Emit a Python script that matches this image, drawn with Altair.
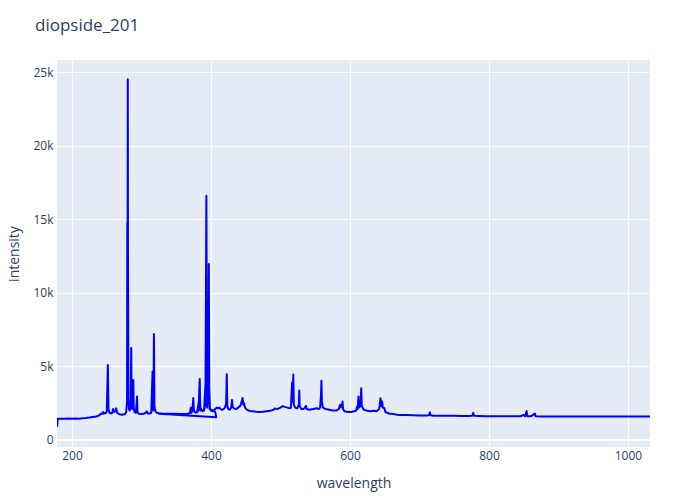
import altair as alt
import pandas as pd

# Segment A (first detector range)
seg_a_x = [178.6, 179.5, 185, 190, 195, 200, 205, 210, 215, 220, 225, 230, 235, 238, 240, 242, 244, 245, 246, 248,
           250, 251.6, 252.5, 254, 256, 258, 259, 260, 262, 263.5, 265, 268, 272, 276, 278, 279.2, 279.55, 279.9,
           280.27, 280.6, 281.2, 282, 283, 284.5, 285.2, 285.8, 287, 288.2, 288.8, 290, 292, 293.6, 294.2, 296,
           300, 303, 306, 307.5, 309, 312, 314, 315.9, 316.6, 317.2, 317.9, 318.6, 320, 322, 325, 330, 335, 340,
           345, 350, 355, 360, 365, 368, 370, 371, 372, 373.5, 374.5, 375.3, 376, 378, 380, 382, 383.8, 384.5,
           386, 388, 390, 392, 393.37, 394, 395, 396.2, 396.85, 397.5, 398.5, 400, 402, 404, 406, 407, 407.5]
seg_a_y = [900, 1440, 1450, 1440, 1460, 1450, 1460, 1450, 1470, 1490, 1520, 1560, 1600, 1650, 1720, 1800, 1780, 1900,
           1800, 1820, 1900, 5100, 2100, 1850, 1800, 1850, 2100, 1900, 1950, 2150, 1850, 1750, 1720, 1750, 1900,
           2600, 14760, 8500, 24540, 11770, 3000, 2100, 2000, 2200, 6260, 2300, 2100, 4080, 2200, 1900, 1850, 2950,
           1900, 1780, 1760, 1780, 1850, 1950, 1800, 1800, 1850, 4650, 2000, 2400, 7210, 2300, 1950, 1850, 1820,
           1800, 1790, 1780, 1770, 1760, 1750, 1740, 1760, 1800, 1900, 2200, 1900, 2100, 2850, 2000, 1950, 1850,
           1900, 2000, 4150, 2200, 2100, 1950, 2050, 2400, 16620, 5000, 2700, 3000, 11970, 3500, 2200, 2000, 1950,
           2000, 1900, 1700, 1540]

# Segment B (second detector range, starts back inside the first one)
seg_b_x = [325, 332, 340, 348, 356, 362, 368, 372, 374.5, 376, 380, 383.8, 385, 390, 393.37, 394.5, 396.85, 398,
           400, 403, 406, 408, 410, 412, 414, 416, 418, 420, 421.8, 422.67, 423.4, 425, 427, 429, 430.3, 431.2,
           433, 436, 439, 442, 443.5, 445.5, 446.5, 447.5, 449, 452, 456, 460, 465, 470, 475, 480, 485, 490, 492,
           495, 500, 503, 506, 510, 513, 515, 516.7, 517.6, 518.4, 519.2, 521, 524, 526.5, 527.0, 527.6, 530, 533,
           535, 536.7, 537.5, 542, 547, 552, 555, 557, 558.2, 558.9, 559.6, 561, 565, 570, 575, 580, 584, 585.7,
           586.5, 588.2, 589.3, 590, 592, 597, 602, 606, 609, 610.3, 611, 612.2, 613, 615, 616.2, 617, 620, 625,
           630, 634.5, 638, 642, 643.9, 645, 646.3, 647.2, 649.4, 651, 656, 662, 668, 672, 680, 690, 700, 710,
           714, 715, 716, 720, 730, 740, 750, 760, 770, 776, 777.4, 778.5, 785, 795, 805, 815, 825, 835, 845,
           849.8, 852, 854.2, 855, 860, 866.2, 867, 875, 885, 900, 920, 940, 960, 980, 1000, 1015, 1031.7]
seg_b_y = [1780, 1790, 1790, 1780, 1770, 1760, 1790, 1850, 2300, 1900, 1880, 3000, 2000, 2000, 5000, 2200, 4000,
           2100, 2050, 2000, 2100, 2200, 2150, 2200, 2100, 2050, 2100, 2200, 2500, 4470, 2300, 2100, 2050, 2200,
           2720, 2250, 2150, 2100, 2200, 2300, 2500, 2850, 2400, 2500, 2200, 2050, 1970, 1950, 1920, 1900, 1920,
           1950, 1980, 2050, 2150, 2100, 2200, 2300, 2250, 2200, 2150, 2200, 3900, 2600, 4450, 2400, 2200, 2150,
           2400, 3360, 2300, 2100, 2100, 2200, 2320, 2100, 2050, 2100, 2160, 2100, 2200, 3000, 4020, 2600, 2200,
           2100, 2050, 2000, 2000, 2100, 2390, 2200, 2300, 2610, 2100, 1950, 1900, 1900, 1950, 2000, 2270, 2100,
           2950, 2200, 2300, 3520, 2300, 2050, 1980, 1950, 1980, 1950, 2100, 2840, 2300, 2610, 2200, 2160, 1900,
           1800, 1760, 1720, 1700, 1690, 1680, 1670, 1660, 1680, 1890, 1680, 1650, 1640, 1640, 1640, 1630, 1630,
           1650, 1840, 1640, 1630, 1620, 1620, 1620, 1620, 1610, 1615, 1700, 1620, 1960, 1620, 1610, 1790, 1610,
           1600, 1600, 1600, 1595, 1595, 1590, 1590, 1590, 1590, 1590]

xs = seg_a_x + seg_b_x
ys = seg_a_y + seg_b_y
df = pd.DataFrame({"wavelength": xs, "intensity": ys, "idx": list(range(len(xs)))})
zero_df = pd.DataFrame({"z": [0]})

x_ticks = [200, 400, 600, 800, 1000]
y_ticks = [0, 5000, 10000, 15000, 20000, 25000]

x_scale = alt.Scale(domain=[178.4, 1031.7], nice=False, zero=False)
y_scale = alt.Scale(domain=[-480, 25850], nice=False, zero=False)

zero = alt.Chart(zero_df).mark_rule(color="white", strokeWidth=2).encode(
    y=alt.Y("z:Q", scale=y_scale)
)

line = alt.Chart(df).mark_line(color="#0000ff", strokeWidth=2, strokeJoin="round", clip=True).encode(
    x=alt.X("wavelength:Q", scale=x_scale,
            axis=alt.Axis(values=x_ticks, format="d", title="wavelength", titlePadding=15, labelPadding=3)),
    y=alt.Y("intensity:Q", scale=y_scale,
            axis=alt.Axis(values=y_ticks, title="intensity", titlePadding=11, labelPadding=4,
                          labelExpr="datum.value == 0 ? '0' : format(datum.value, '~s')")),
    order="idx:Q",
)

chart = alt.layer(zero, line).properties(
    width=593,
    height=387,
    autosize=alt.AutoSizeParams(type="none"),
    padding={"left": 49, "top": 52, "right": 42, "bottom": 45},
    title=alt.TitleParams("diopside_201", anchor="start", frame="group", dx=-22, offset=12,
                          baseline="alphabetic", fontSize=17, font="Open Sans",
                          color="#2a3f5f", fontWeight="normal"),
    background="white",
).configure_view(
    fill="#E5ECF6", stroke=None
).configure_axis(
    domain=False, ticks=False, grid=True, gridColor="white", gridWidth=1,
    labelFont="Open Sans", labelFontSize=12, labelColor="#2a3f5f",
    titleFont="Open Sans", titleFontSize=14, titleColor="#2a3f5f", titleFontWeight="normal",
)

chart.save("out.html", embed_options={"renderer": "svg", "actions": False})
